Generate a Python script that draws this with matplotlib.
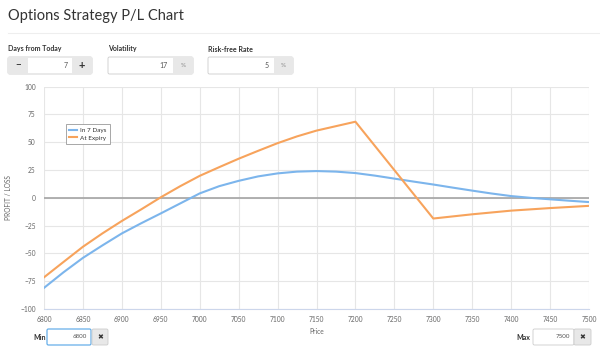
import matplotlib.pyplot as plt
from matplotlib.patches import Rectangle, FancyBboxPatch

plt.rcParams['font.family'] = ['Lato', 'DejaVu Sans']

# P/L values
prices = [6800, 6825, 6850, 6875, 6900, 6925, 6950, 6975, 7000, 7025,
          7050, 7075, 7100, 7125, 7150, 7175, 7200, 7225, 7250, 7275,
          7300, 7325, 7350, 7375, 7400, 7425, 7450, 7475, 7500]
in_7_days = [-81, -67, -54, -42.8, -32, -22.8, -14, -5, 4, 10.5,
             15.3, 19.3, 22, 23.6, 24.1, 23.6, 22.3, 20, 17.3, 14.6,
             12, 9.2, 6.5, 3.9, 1.6, 0, -1.3, -2.6, -3.8]

expiry_prices = [6800, 6825, 6850, 6875, 6900, 6925, 6950, 6975, 7000, 7025,
                 7050, 7075, 7100, 7125, 7150, 7175, 7200, 7300, 7350, 7400,
                 7450, 7500]
at_expiry = [-71.5, -57.7, -44, -32, -20.8, -10.3, 0.5, 10.5, 19.8, 27.6,
             35.2, 42.3, 49.2, 55.3, 60.5, 64.5, 68.5, -18.6, -14.8, -11.5,
             -9.2, -7.2]

x_ticks = list(range(6800, 7501, 50))
y_ticks = list(range(-100, 101, 25))

series_labels = ['In 7 Days', 'At Expiry']
days_value = '7'
volatility_value = '17'
rate_value = '5'
min_value = '6800'
max_value = '7500'

BLUE = '#7cb5ec'
ORANGE = '#f7a35c'
GRID = '#e6e6e6'
LABEL = '#666666'

fig = plt.figure(figsize=(6, 3.52), dpi=100)

# background layer in pixel coordinates for the page widgets
bg = fig.add_axes([0, 0, 1, 1], zorder=0)
bg.set_xlim(0, 600)
bg.set_ylim(352, 0)
bg.axis('off')

bg.text(8, 16, 'Options Strategy P/L Chart', fontsize=10.5, color='#333333',
        va='center', ha='left')
bg.plot([8, 600], [33, 33], color='#eeeeee', lw=0.8)


def box(x0, y0, w, h, face='white', edge='#cccccc', lw=0.6):
    bg.add_patch(FancyBboxPatch((x0, y0), w, h, boxstyle='round,pad=0,rounding_size=1.5',
                                facecolor=face, edgecolor=edge, lw=lw))


def label(x, y, s):
    bg.text(x, y, s, fontsize=5, fontweight='bold', color='#333333', va='center', ha='left')


# Days from Today
label(8, 49, 'Days from Today')
box(8, 57, 84, 17)
bg.add_patch(Rectangle((8.3, 57.3), 19.7, 16.4, facecolor='#e8e8e8', edgecolor='none'))
bg.add_patch(Rectangle((72, 57.3), 19.7, 16.4, facecolor='#e8e8e8', edgecolor='none'))
bg.text(18, 65.5, '\u2212', fontsize=7, fontweight='bold', color='#333333', ha='center', va='center')
bg.text(82, 65.5, '+', fontsize=8, fontweight='bold', color='#333333', ha='center', va='center')
bg.text(68, 65.5, days_value, fontsize=5, color='#555555', ha='right', va='center')

# Volatility
label(108, 49, 'Volatility')
box(108, 57, 85, 17)
bg.add_patch(Rectangle((173, 57.3), 19.7, 16.4, facecolor='#e8e8e8', edgecolor='none'))
bg.text(168, 65.5, volatility_value, fontsize=5, color='#555555', ha='right', va='center')
bg.text(183, 65.5, '%', fontsize=4.5, color='#888888', ha='center', va='center')

# Risk-free Rate
label(208, 49, 'Risk-free Rate')
box(208, 57, 85, 17)
bg.add_patch(Rectangle((274, 57.3), 18.7, 16.4, facecolor='#e8e8e8', edgecolor='none'))
bg.text(269, 65.5, rate_value, fontsize=5, color='#555555', ha='right', va='center')
bg.text(283.5, 65.5, '%', fontsize=4.5, color='#888888', ha='center', va='center')

# Min / Max inputs under the chart
label(33, 337, 'Min')
box(47, 329, 44, 16, edge='#66afe9', lw=0.9)
bg.text(87, 337, min_value, fontsize=4.5, color='#555555', ha='right', va='center')
box(92, 329, 16, 16, face='#e8e8e8')
bg.text(100, 337, '\u2716', fontsize=5, color='#333333', ha='center', va='center',
        family=['DejaVu Sans'])

label(516, 337, 'Max')
box(533, 329, 41, 16)
bg.text(570, 337, max_value, fontsize=4.5, color='#555555', ha='right', va='center')
box(574, 329, 17, 16, face='#e8e8e8')
bg.text(582.5, 337, '\u2716', fontsize=5, color='#333333', ha='center', va='center',
        family=['DejaVu Sans'])

# the chart itself
ax = fig.add_axes([44 / 600, 1 - 309 / 352, 545 / 600, 222.3 / 352], zorder=1)
ax.patch.set_alpha(0)

ax.plot(prices, in_7_days, color=BLUE, lw=1.5, label=series_labels[0], zorder=3)
ax.plot(expiry_prices, at_expiry, color=ORANGE, lw=1.5, label=series_labels[1], zorder=3)
ax.axhline(0, color='#aaaaaa', lw=1.3, zorder=2)

ax.set_xlim(6800, 7500)
ax.set_ylim(-100, 100)
ax.set_xticks(x_ticks)
ax.set_yticks(y_ticks)
ax.grid(True, color=GRID, lw=0.8, zorder=0)
ax.set_axisbelow(True)
for side in ['top', 'right', 'left']:
    ax.spines[side].set_visible(False)
ax.spines['bottom'].set_color('#ccd6eb')
ax.spines['bottom'].set_linewidth(0.8)
ax.tick_params(axis='both', length=0, labelsize=4.8, labelcolor=LABEL)
ax.tick_params(axis='y', pad=6)
ax.tick_params(axis='x', pad=5)

ax.set_xlabel('Price', fontsize=4.8, color=LABEL, labelpad=4)
ax.set_ylabel('PROFIT / LOSS', fontsize=4.8, color=LABEL, labelpad=6)

leg = ax.legend(loc='upper left', bbox_to_anchor=(63 / 600, 1 - 121 / 352),
                bbox_transform=fig.transFigure, fontsize=4.6, frameon=True,
                fancybox=False, edgecolor='#999999', framealpha=1,
                handlelength=1.2, handletextpad=0.5, borderpad=0.5,
                labelspacing=0.35)
leg.get_frame().set_linewidth(0.6)
for t in leg.get_texts():
    t.set_color('#333333')

fig.savefig('out.png', dpi=100)
